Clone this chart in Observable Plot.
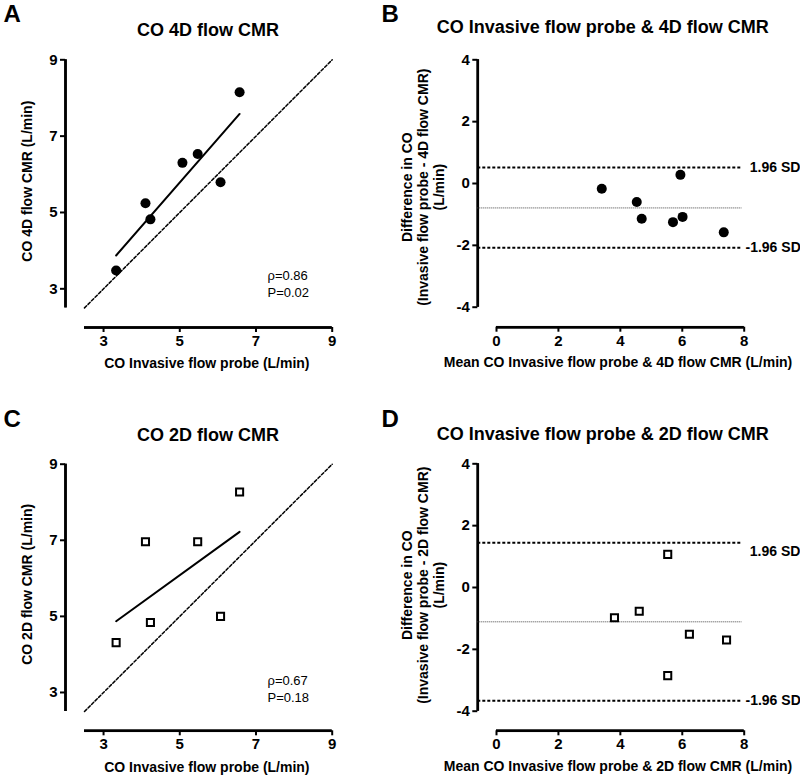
<!DOCTYPE html>
<html><head><meta charset="utf-8">
<script src="https://cdn.jsdelivr.net/npm/d3@7"></script>
<script src="https://cdn.jsdelivr.net/npm/@observablehq/plot@0.6"></script>
<style>
body{margin:0;background:#fff;}
#wrap{position:relative;width:800px;height:776px;overflow:hidden;background:#fff;}
.panel{position:absolute;width:400px;height:388px;overflow:hidden;}
</style></head><body>
<div id="wrap">
<div class="panel" id="pA" style="left:0;top:0"></div>
<div class="panel" id="pB" style="left:400px;top:0"></div>
<div class="panel" id="pC" style="left:0;top:388px"></div>
<div class="panel" id="pD" style="left:400px;top:388px"></div>
</div>
<script>
// ---- data ----
// Panel A: CO 4D flow CMR vs invasive flow probe
const probe4D = [3.33, 4.10, 4.23, 5.07, 5.47, 6.07, 6.57];
const cmr4D   = [3.48, 5.24, 4.82, 6.30, 6.53, 5.79, 8.15];
// Panel C: CO 2D flow CMR vs invasive flow probe
const probe2D = [3.33, 4.10, 4.23, 5.47, 6.07, 6.57];
const cmr2D   = [4.31, 6.96, 4.84, 6.96, 5.00, 8.27];
// Panel B: Bland-Altman 4D
const mean4D = [3.40, 4.53, 4.69, 5.70, 5.94, 6.01, 7.34];
const diff4D = [-0.17, -0.60, -1.14, -1.25, 0.28, -1.08, -1.58];
const bias4D = [-0.79];
const loa4D  = [0.52, -2.08];
// Panel D: Bland-Altman 2D
const mean2D = [3.81, 4.61, 5.53, 5.53, 6.23, 7.43];
const diff2D = [-0.98, -0.77, 1.07, -2.85, -1.51, -1.70];
const bias2D = [-1.11];
const loa2D  = [1.45, -3.66];
// scales / ticks
const scatterDomain = [2.5, 9];
const scatterTicks = [3, 5, 7, 9];
const identityLine = [2.5, 9];
const baXDomain = [0, 8];
const baYDomain = [-4, 4];
const baXTicks = [0, 2, 4, 6, 8];
const baYTicks = [-4, -2, 0, 2, 4];
const loaLabels = ["1.96 SD", "-1.96 SD"];

const FONT = '"Liberation Sans", Arial, Helvetica, sans-serif';
const fmt = d => String(d);
const svgStyle = {fontFamily: FONT, fontSize: "15px", fontWeight: "bold", color: "black", background: "white"};
const AXW = 2.5;
const W = 400, H = 388;

// extend a domain downward so the axis sits offsetPx away from the data area (Prism-style offset axes)
function extendLow(domain, rangePx, offsetPx) {
  const ppu = (rangePx - offsetPx) / (domain[1] - domain[0]);
  return [domain[0] - offsetPx / ppu, domain[1]];
}

function axes(xTicks, yTicks) {
  const common = {tickSize: 5, tickPadding: 3, strokeWidth: 2, fontSize: 15, fontWeight: "bold", label: null, tickFormat: fmt};
  return [Plot.axisY({ticks: yTicks, ...common}), Plot.axisX({ticks: xTicks, ...common})];
}

// offset axis lines: stroked rules plus thin filled rects along the same edges
function axisLines(xDom, yDom, xExt, yExt, insetX, insetY) {
  const h = AXW / 2;
  return [
    Plot.ruleX([xExt[0]], {insetBottom: insetY, strokeWidth: AXW, stroke: "black"}),
    Plot.ruleY([yExt[0]], {insetLeft: insetX, strokeWidth: AXW, stroke: "black"}),
    Plot.rect([0], {x1: () => xExt[0], x2: () => xExt[0], y1: () => yDom[0], y2: () => yDom[1],
      insetLeft: -h + 0.5, insetRight: -h - 0.5, fill: "black"}),
    Plot.rect([0], {x1: () => xDom[0], x2: () => xDom[1], y1: () => yExt[0], y2: () => yExt[0],
      insetTop: -h + 0.5, insetBottom: -h - 0.5, fill: "black"})
  ];
}

function scatter(host, cfg) {
  const idx = d3.range(cfg.probe.length);
  const mL = 65, mR = 68.3, insetX = 19;
  const xExt = extendLow(scatterDomain, W - mL - mR, insetX);
  const yExt = extendLow(scatterDomain, H - cfg.mt - cfg.mb, cfg.ib);
  const dotOpts = cfg.square
    ? {symbol: "square", r: 4, fill: "white", stroke: "black", strokeWidth: 2}
    : {symbol: "circle", r: 5, fill: "black"};
  const svg = Plot.plot({
    width: W, height: H,
    marginLeft: mL, marginRight: mR, marginTop: cfg.mt, marginBottom: cfg.mb,
    style: svgStyle,
    x: {domain: xExt},
    y: {domain: yExt},
    marks: [
      ...axisLines(scatterDomain, scatterDomain, xExt, yExt, insetX, cfg.ib),
      ...axes(scatterTicks, scatterTicks),
      Plot.line(identityLine, {x: d => d, y: d => d, strokeDasharray: "3,2", strokeWidth: 1.5}),
      Plot.linearRegressionY(idx, {x: i => cfg.probe[i], y: i => cfg.cmr[i], ci: 0, strokeWidth: 2, stroke: "black"}),
      Plot.dot(idx, {x: i => cfg.probe[i], y: i => cfg.cmr[i], ...dotOpts}),
      Plot.text([cfg.title], {text: d => d, frameAnchor: "top", textAnchor: "middle", dx: 9.2, dy: cfg.titleDy, lineAnchor: "bottom", fontSize: 18, fontWeight: "bold"}),
      Plot.text([cfg.xlabel], {text: d => d, frameAnchor: "bottom", textAnchor: "middle", dx: 8, dy: cfg.xlabDy, lineAnchor: "bottom", fontSize: 14, fontWeight: "bold"}),
      Plot.text([cfg.ylabel], {text: d => d, frameAnchor: "left", textAnchor: "middle", dx: -38, dy: cfg.ylabDy, rotate: -90, lineAnchor: "middle", fontSize: 14, fontWeight: "bold"}),
      Plot.text([cfg.stats], {text: d => d, frameAnchor: "bottom-left", dx: 202, dy: cfg.statsDy, textAnchor: "start", lineAnchor: "bottom", lineHeight: 1.3, fontSize: 13, fontWeight: "normal"}),
      Plot.text([cfg.letters[0]], {text: d => d, frameAnchor: "top-left", dx: -62, dy: -37.5, textAnchor: "start", lineAnchor: "bottom", fontSize: 24, fontWeight: "bold"}),
      Plot.text([cfg.letters[1]], {text: d => d, frameAnchor: "top-left", dx: 316, dy: -37.5, textAnchor: "start", lineAnchor: "bottom", fontSize: 24, fontWeight: "bold"})
    ]
  });
  host.append(svg);
}

function blandAltman(host, cfg) {
  const idx = d3.range(cfg.mean.length);
  const mL = 77.3, mR = 56.3, insetX = 18.7;
  const xExt = extendLow(baXDomain, W - mL - mR, insetX);
  const yExt = extendLow(baYDomain, H - cfg.mt - cfg.mb, cfg.ib);
  const dotOpts = cfg.square
    ? {symbol: "square", r: 4, fill: "white", stroke: "black", strokeWidth: 2}
    : {symbol: "circle", r: 5, fill: "black"};
  const svg = Plot.plot({
    width: W, height: H,
    marginLeft: mL, marginRight: mR, marginTop: cfg.mt, marginBottom: cfg.mb,
    style: svgStyle,
    x: {domain: xExt},
    y: {domain: yExt},
    marks: [
      ...axisLines(baXDomain, baYDomain, xExt, yExt, insetX, cfg.ib),
      ...axes(baXTicks, baYTicks),
      Plot.ruleY(cfg.loa, {strokeDasharray: "3,2", strokeWidth: 2, insetRight: 2}),
      Plot.ruleY(cfg.bias, {strokeDasharray: "1,1", strokeWidth: 1, stroke: "#444", insetRight: 2}),
      Plot.text([cfg.loa[0]], {y: d => d, text: [loaLabels[0]], frameAnchor: "right", textAnchor: "start", lineAnchor: "middle", dx: 5.6, dy: cfg.upperLabDy, fontSize: 14, fontWeight: "bold"}),
      Plot.text([cfg.loa[1]], {y: d => d, text: [loaLabels[1]], frameAnchor: "right", textAnchor: "start", lineAnchor: "middle", dx: 1.3, fontSize: 14, fontWeight: "bold"}),
      Plot.dot(idx, {x: i => cfg.mean[i], y: i => cfg.diff[i], ...dotOpts}),
      Plot.text([cfg.title], {text: d => d, frameAnchor: "top", textAnchor: "middle", dx: -8.3, dy: cfg.titleDy, lineAnchor: "bottom", fontSize: 18, fontWeight: "bold"}),
      Plot.text([cfg.xlabel], {text: d => d, frameAnchor: "bottom", textAnchor: "middle", dx: 7, dy: cfg.xlabDy, lineAnchor: "bottom", fontSize: 14, fontWeight: "bold"}),
      Plot.text([cfg.ylabel], {text: d => d, frameAnchor: "left", dx: -54.8, dy: cfg.ylabDy, rotate: -90, lineAnchor: "middle", lineHeight: 1.15, textAnchor: "middle", fontSize: 14, fontWeight: "bold"})
    ]
  });
  host.append(svg);
}

scatter(document.getElementById("pA"), {
  probe: probe4D, cmr: cmr4D, square: false,
  mt: 59.3, mb: 61, ib: 19.6, titleDy: -23.6, xlabDy: 40.5, ylabDy: -12.5, statsDy: -30.3,
  title: "CO 4D flow CMR", xlabel: "CO Invasive flow probe (L/min)", ylabel: "CO 4D flow CMR (L/min)",
  stats: "\u03c1=0.86\nP=0.02", letters: ["A", "B"]
});
scatter(document.getElementById("pC"), {
  probe: probe2D, cmr: cmr2D, square: true,
  mt: 75.7, mb: 45.7, ib: 19.3, titleDy: -23.4, xlabDy: 41.5, ylabDy: -13.2, statsDy: -29,
  title: "CO 2D flow CMR", xlabel: "CO Invasive flow probe (L/min)", ylabel: "CO 2D flow CMR (L/min)",
  stats: "\u03c1=0.67\nP=0.18", letters: ["C", "D"]
});
blandAltman(document.getElementById("pB"), {
  mean: mean4D, diff: diff4D, bias: bias4D, loa: loa4D, square: false,
  mt: 59.3, mb: 61.3, ib: 20, titleDy: -27, xlabDy: 40, ylabDy: -6.3, upperLabDy: 0,
  title: "CO Invasive flow probe & 4D flow CMR",
  xlabel: "Mean CO Invasive flow probe & 4D flow CMR (L/min)",
  ylabel: "Difference in CO\n(Invasive flow probe - 4D flow CMR)\n(L/min)"
});
blandAltman(document.getElementById("pD"), {
  mean: mean2D, diff: diff2D, bias: bias2D, loa: loa2D, square: true,
  mt: 75.3, mb: 45.7, ib: 19.6, titleDy: -23.6, xlabDy: 40, ylabDy: -12.1, upperLabDy: 9.3,
  title: "CO Invasive flow probe & 2D flow CMR",
  xlabel: "Mean CO Invasive flow probe & 2D flow CMR (L/min)",
  ylabel: "Difference in CO\n(Invasive flow probe - 2D flow CMR)\n(L/min)"
});
</script>
</body></html>
